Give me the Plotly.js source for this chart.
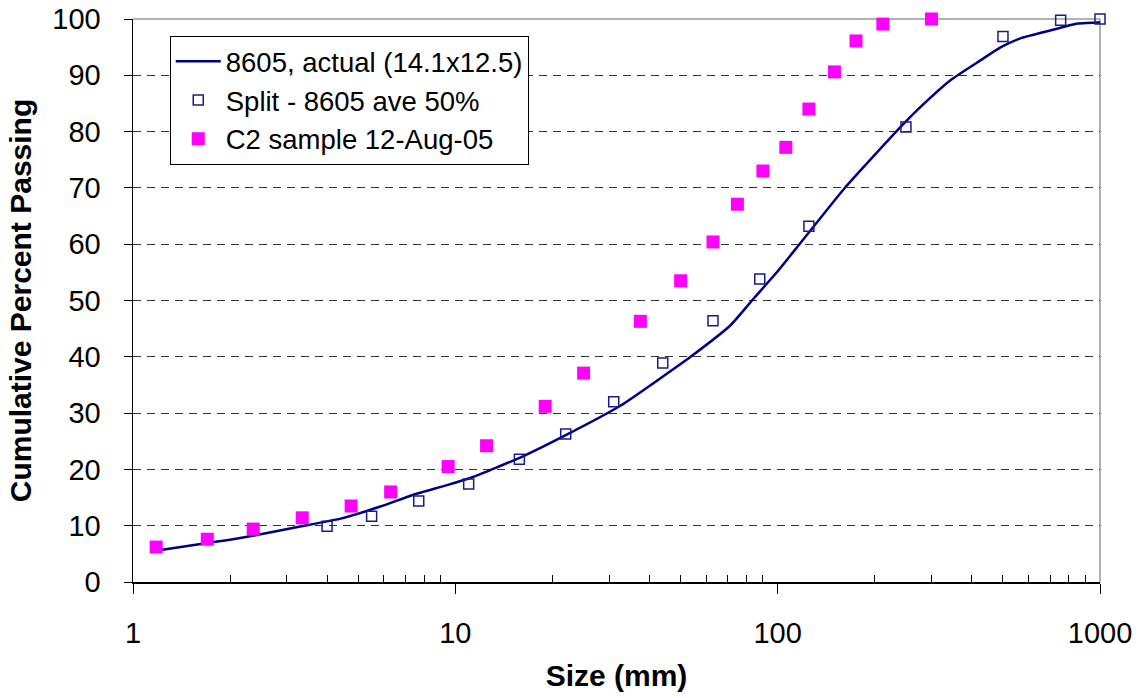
<!DOCTYPE html>
<html>
<head>
<meta charset="utf-8">
<script src="https://cdn.plot.ly/plotly-3.0.1.min.js"></script>
<style>html,body{margin:0;padding:0;background:#fff;}#chart{width:1140px;height:698px;}</style>
</head>
<body>
<div id="chart"></div>
<script>
// Curve: 8605, actual (14.1x12.5)
const actualSize = [1.22, 1.68, 2.0, 2.4, 3.27, 4.44, 5.85, 7.42, 9.42, 11.4, 13.5, 15.9, 21.7, 32.5, 43.3, 53.7, 71.4, 84.4, 99.7, 118, 161, 204, 247, 285, 345, 427, 493, 569, 705, 853, 985, 1080];
const actualPass = [5.7, 6.9, 7.5, 8.3, 9.8, 11.3, 13.4, 15.5, 17.2, 18.7, 20.4, 22.1, 25.9, 31.3, 36.2, 40.0, 45.6, 50.4, 55.1, 60.3, 69.9, 76.4, 81.5, 85.0, 89.2, 92.7, 95.0, 96.6, 98.0, 99.2, 99.4, 99.6];

// Split - 8605 ave 50%
const splitSize = [4, 5.5, 7.7, 11, 15.8, 22, 31, 44, 63, 88, 125, 250, 500, 755, 1000];
const splitPass = [9.9, 11.7, 14.4, 17.4, 21.8, 26.3, 32.0, 38.9, 46.4, 53.8, 63.2, 80.8, 96.9, 99.8, 100];

// C2 sample 12-Aug-05
const c2Size = [1.18, 1.7, 2.36, 3.35, 4.75, 6.3, 9.5, 12.5, 19, 25, 37.5, 50, 63, 75, 90, 106, 125, 150, 175, 212, 300];
const c2Pass = [6.2, 7.6, 9.4, 11.4, 13.5, 16.0, 20.5, 24.2, 31.2, 37.1, 46.3, 53.5, 60.4, 67.1, 73.0, 77.2, 84.0, 90.6, 96.1, 99.1, 100];

const seriesNames = ["8605, actual (14.1x12.5)", "Split - 8605 ave 50%", "C2 sample 12-Aug-05"];

const xTickVals = [1, 10, 100, 1000];
const xTickText = ["1", "10", "100", "1000"];
const xMinorVals = [];
for (const d of [1, 10, 100]) for (let k = 2; k <= 9; k++) xMinorVals.push(d * k);
const yTickVals = [0, 10, 20, 30, 40, 50, 60, 70, 80, 90, 100];

const FONT = "Arial, 'Liberation Sans', sans-serif";

const traces = [
  {x: actualSize, y: actualPass, name: seriesNames[0], type: "scatter", mode: "lines",
   line: {color: "#000080", width: 2.5, shape: "spline", smoothing: 0.5}, legendgroup: "a"},
  {x: splitSize, y: splitPass, name: seriesNames[1], type: "scatter", mode: "markers",
   marker: {symbol: "square-open", size: 10, color: "#1a1a8c", line: {width: 1.5, color: "#1a1a8c"}},
   cliponaxis: false, legendgroup: "b"},
  {x: c2Size, y: c2Pass, name: seriesNames[2], type: "scatter", mode: "markers",
   marker: {symbol: "square", size: 13, color: "#ff00ff"}, cliponaxis: false, legendgroup: "c"}
];

const layout = {
  width: 1140, height: 698,
  margin: {l: 133, r: 40, t: 19, b: 116},
  paper_bgcolor: "#fff", plot_bgcolor: "#fff",
  font: {family: FONT, color: "#000"},
  showlegend: true,
  legend: {x: 0.038, y: 0.97, xanchor: "left", yanchor: "top",
    bgcolor: "#fff", bordercolor: "#000", borderwidth: 1,
    font: {family: FONT, size: 27.5, color: "#000"}, itemwidth: 45,
    traceorder: "normal", tracegroupgap: 0},
  xaxis: {
    type: "log", range: [0, 3],
    tickmode: "array", tickvals: xTickVals, ticktext: xTickText,
    ticks: "outside", ticklen: 10, tickwidth: 1, tickcolor: "#000",
    minor: {tickmode: "array", tickvals: xMinorVals, ticks: "inside", ticklen: 7, tickwidth: 1, tickcolor: "#000", showgrid: false},
    showgrid: false, zeroline: false,
    showline: true, linecolor: "#000", linewidth: 1.5,
    tickfont: {family: FONT, size: 29, color: "#000"},
    ticklabelstandoff: 15,
    title: {text: "<b>Size (mm)</b>", font: {family: FONT, size: 30, color: "#000"}, standoff: 16}
  },
  yaxis: {
    range: [0, 100], tickmode: "array", tickvals: yTickVals,
    ticks: "outside", ticklen: 8, tickwidth: 1, tickcolor: "#000",
    showgrid: true, gridcolor: "#333", gridwidth: 1, griddash: "8px,6px",
    zeroline: false,
    showline: true, linecolor: "#000", linewidth: 1.5,
    tickfont: {family: FONT, size: 29, color: "#000"},
    ticklabelstandoff: 17,
    title: {text: "<b>Cumulative Percent Passing</b>", font: {family: FONT, size: 30, color: "#000"}, standoff: 12}
  },
  shapes: [
    {type: "line", xref: "paper", yref: "paper", x0: 0, x1: 1, y0: 1, y1: 1, line: {color: "#999", width: 1.5}, layer: "below"},
    {type: "line", xref: "paper", yref: "paper", x0: 1, x1: 1, y0: 0, y1: 1, line: {color: "#999", width: 1.5}, layer: "below"}
  ]
};

Plotly.newPlot("chart", traces, layout, {displayModeBar: false, staticPlot: true});
</script>
</body>
</html>
